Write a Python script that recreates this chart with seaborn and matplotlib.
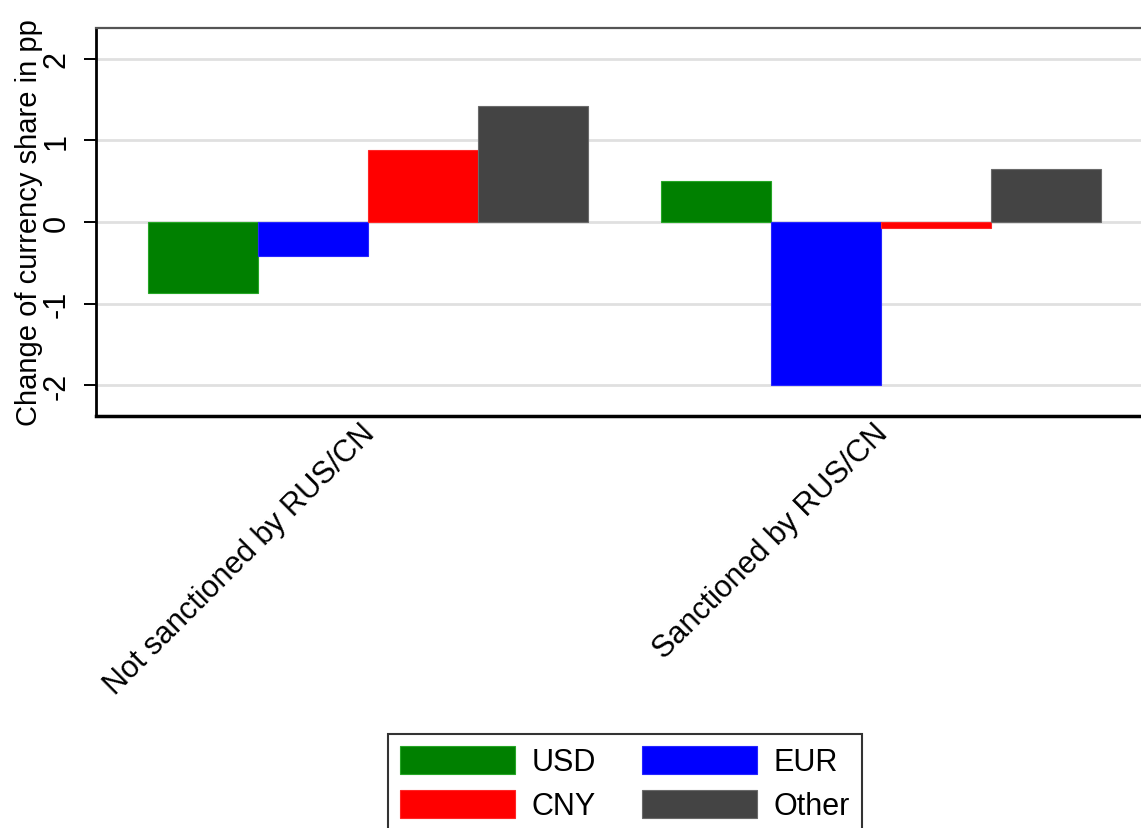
import matplotlib
matplotlib.use("Agg")
import matplotlib.pyplot as plt
import matplotlib.transforms as mtransforms
import seaborn as sns
import pandas as pd

groups = ["Not sanctioned by RUS/CN", "Sanctioned by RUS/CN"]
currencies = ["USD", "EUR", "CNY", "Other"]
usd = [-0.87, 0.50]
eur = [-0.42, -2.00]
cny = [0.88, -0.07]
other = [1.42, 0.65]
colors = {"USD": "#008000", "EUR": "#0000ff", "CNY": "#ff0000", "Other": "#444444"}
yticks = [-2, -1, 0, 1, 2]
ytick_labels = ["-2", "-1", "0", "1", "2"]
ylabel = "Change of currency share in pp"

rows = []
for cur, vals in zip(currencies, [usd, eur, cny, other]):
    for g, v in zip(groups, vals):
        rows.append({"group": g, "currency": cur, "value": v})
df = pd.DataFrame(rows)

sns.set_theme(style="white")
plt.rcParams["font.family"] = ["Liberation Sans", "DejaVu Sans"]
plt.rcParams["axes.unicode_minus"] = False
plt.rcParams["text.color"] = "black"
plt.rcParams["axes.labelcolor"] = "black"
plt.rcParams["xtick.color"] = "black"
plt.rcParams["ytick.color"] = "black"

W, H = 1141, 829
fig = plt.figure(figsize=(W / 100, H / 100), dpi=100)
left, right, top, bottom = 96, 1153, 29, 417
ax = fig.add_axes([left / W, 1 - bottom / H, (right - left) / W, (bottom - top) / H])

ax.grid(axis="y", color="#e0e0e0", linewidth=2)
ax.set_axisbelow(True)

sns.barplot(data=df, x="group", y="value", hue="currency", order=groups,
            hue_order=currencies, palette=colors, width=0.858, errorbar=None,
            saturation=1, ax=ax, linewidth=0.8, zorder=3)
for patch in ax.patches:
    fc = patch.get_facecolor()
    patch.set_edgecolor(tuple(min(1, c + 0.15) for c in fc[:3]))

ax.set_xlim(-0.53, 1.53)
ax.set_ylim(-2.38, 2.38)
ax.set_yticks(yticks)
ax.set_yticklabels(ytick_labels, rotation=90, va="center", fontsize=22)
ax.tick_params(axis="y", which="major", left=True, length=8.6, width=1.4,
               color="black", pad=9, labelcolor="black")
ax.tick_params(axis="x", length=0, pad=1.5, labelcolor="black")
ax.set_xlabel("")
ax.set_ylabel(ylabel, fontsize=21, color="black")
ax.yaxis.set_label_coords((43 - left) / (right - left), 0.5)

offset = mtransforms.ScaledTranslation(-8 / 100, 0, fig.dpi_scale_trans)
ax.set_xticks(range(len(groups)))
ax.set_xticklabels(groups, rotation=45, ha="right", va="top",
                   rotation_mode="anchor", fontsize=22)
for lab in ax.get_xticklabels():
    lab.set_transform(lab.get_transform() + offset)

ax.spines["left"].set_color("black")
ax.spines["left"].set_linewidth(2)
ax.spines["bottom"].set_color("black")
ax.spines["bottom"].set_linewidth(2.5)
ax.spines["top"].set_color("#555555")
ax.spines["top"].set_linewidth(1.6)
ax.spines["right"].set_visible(False)

handles, labels = ax.get_legend_handles_labels()
if ax.legend_:
    ax.legend_.remove()
hmap = dict(zip(labels, handles))
leg_order = ["USD", "CNY", "EUR", "Other"]  # column-wise fill gives USD EUR / CNY Other rows
leg = fig.legend([hmap[k] for k in leg_order], leg_order, loc="upper center", ncol=2,
                 bbox_to_anchor=(625 / W, 1 - 735 / H),
                 fontsize=22, frameon=True, fancybox=False,
                 handlelength=3.75, handleheight=1.0, handletextpad=0.55,
                 columnspacing=1.5, labelspacing=0.42, borderpad=0.4,
                 borderaxespad=0)
leg.get_frame().set_edgecolor("black")
leg.get_frame().set_linewidth(1.5)
for t in leg.get_texts():
    t.set_color("black")

fig.savefig("out.png", dpi=100, facecolor="white")
